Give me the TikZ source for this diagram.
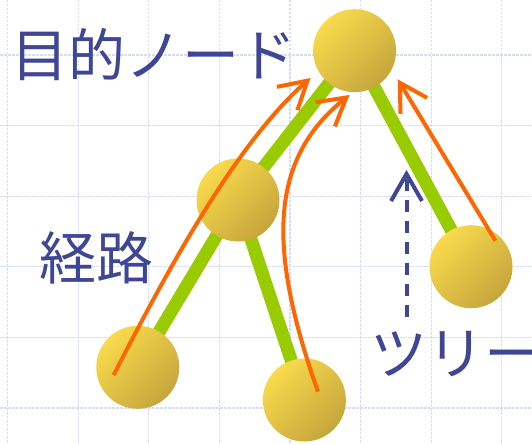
\documentclass[tikz,border=0pt]{standalone}
\usepackage{fontspec}
\newfontfamily\jp{Noto Sans CJK JP}
\usetikzlibrary{arrows.meta}
\definecolor{gridc}{HTML}{D6DEF7}
\definecolor{edgec}{HTML}{99CC00}
\definecolor{arrc}{HTML}{FF6600}
\definecolor{txtc}{HTML}{3F4695}
\definecolor{ballA}{HTML}{F9DA4C}
\definecolor{ballB}{HTML}{C6A63C}
\tikzset{
  gridline/.style={draw=gridc, line width=1.2pt, dash pattern=on 2.5pt off 1.5pt},
  treeedge/.style={draw=edgec, line width=13pt},
  ball/.style={circle, minimum size=83pt, inner sep=0pt, top color=ballA, bottom color=ballB, shading angle=45},
  patharrow/.style={draw=arrc, line width=4pt, -{Straight Barb[length=27pt,width=31pt]}},
  treearrow/.style={draw=txtc, line width=4pt, dash pattern=on 12pt off 9pt, -{Straight Barb[length=27pt,width=31pt]}},
  label/.style={text=txtc, font=\jp\fontsize{57}{62}\selectfont, inner sep=0pt, anchor=base west}
}
\begin{document}
\begin{tikzpicture}[x=1pt,y=-1pt]
\useasboundingbox[fill=white] (0,0) rectangle (532,444);
% grid
\foreach \gx in {7.5,78.1,148.7,219.3,289.9,360.5,431.1,501.7}
  \draw[gridline] (\gx,0) -- (\gx,444);
\foreach \gy in {55,125.6,196.2,266.8,337.4,408}
  \draw[gridline] (0,\gy) -- (532,\gy);
% node positions
\coordinate (ptop) at (354.6,50.7);
\coordinate (pmid) at (238,200);
\coordinate (pbl) at (137.8,367.3);
\coordinate (pbm) at (304.4,400);
\coordinate (pr) at (471,266.7);
% edges
\draw[treeedge] (ptop) -- (pmid);
\draw[treeedge] (pmid) -- (pbl);
\draw[treeedge] (pmid) -- (pbm);
\draw[treeedge] (ptop) -- (pr);
% balls
\node[ball] (top) at (ptop) {};
\node[ball] (mid) at (pmid) {};
\node[ball] (bl) at (pbl) {};
\node[ball] (bm) at (pbm) {};
\node[ball] (r) at (pr) {};
% orange path arrows
\coordinate (a1s) at (113.7,375);
\coordinate (a1e) at (310.5,78);
\coordinate (a2s) at (318,391.7);
\coordinate (a2e) at (349.5,95);
\coordinate (a3s) at (495.4,240.7);
\coordinate (a3e) at (397.7,79.3);
\draw[patharrow] (a1s) .. controls (175,255) and (240,140) .. (a1e);
\draw[patharrow] (a2s) .. controls (268,250) and (268,160) .. (a2e);
\draw[patharrow] (a3s) -- (a3e);
% dashed tree arrow
\coordinate (ts) at (406.5,317);
\coordinate (te) at (406.5,170);
\draw[treearrow] (ts) -- (te);
% labels
\node[label] (goal) at (11,76.5) {目的ノード};
\node[label] (route) at (39,279.5) {経路};
\node[label] (tree) at (370,374) {ツリー};
\end{tikzpicture}
\end{document}
